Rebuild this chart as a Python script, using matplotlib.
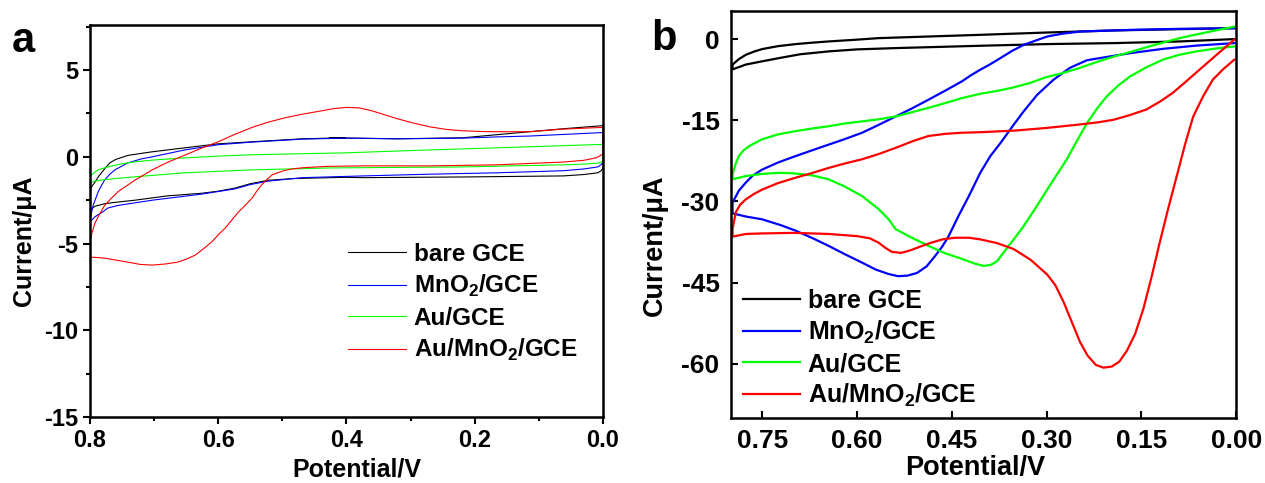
import matplotlib
matplotlib.use("Agg")
import matplotlib.pyplot as plt
from matplotlib.ticker import MultipleLocator, FormatStrFormatter

plt.rcParams['font.family'] = ['Liberation Sans', 'DejaVu Sans']
plt.rcParams['font.weight'] = 'bold'
plt.rcParams['axes.unicode_minus'] = False
plt.rcParams['mathtext.fontset'] = 'custom'
plt.rcParams['mathtext.rm'] = 'Liberation Sans:bold'
plt.rcParams['mathtext.bf'] = 'Liberation Sans:bold'

labels = ['bare GCE', r'MnO$_2$/GCE', 'Au/GCE', r'Au/MnO$_2$/GCE']
colors = ['#000000', '#0000ff', '#00ff00', '#ff0000']

# ---- panel a: CV loops (potential in V, current in uA) ----
a_bare_v = [0.800, 0.800, 0.797, 0.792, 0.786, 0.781, 0.775, 0.769, 0.760, 0.741, 0.720, 0.703,
            0.652, 0.600, 0.547, 0.469, 0.402, 0.426, 0.321, 0.218, 0.114, 0.062, 0.0,
            0.0, 0.003, 0.008, 0.030, 0.062, 0.218, 0.374, 0.402, 0.480, 0.522, 0.550,
            0.574, 0.600, 0.626, 0.679, 0.730, 0.760, 0.777, 0.792, 0.800]
a_bare_i = [-3.06, -2.0, -1.7, -1.45, -1.1, -0.87, -0.6, -0.35, -0.15, 0.08, 0.2, 0.29,
            0.52, 0.75, 0.87, 1.04, 1.1, 1.1, 1.04, 1.1, 1.45, 1.62, 1.8,
            -0.65, -0.8, -0.92, -1.02, -1.1, -1.16, -1.2, -1.18, -1.25, -1.35, -1.55,
            -1.8, -1.98, -2.1, -2.25, -2.5, -2.62, -2.7, -2.85, -3.06]

a_mno2_v = [0.800, 0.798, 0.795, 0.791, 0.787, 0.782, 0.777, 0.769, 0.761, 0.741, 0.720, 0.703,
            0.652, 0.600, 0.547, 0.469, 0.402, 0.321, 0.218, 0.165, 0.114, 0.0,
            0.0, 0.003, 0.008, 0.030, 0.062, 0.165, 0.270, 0.374, 0.469, 0.522, 0.550,
            0.574, 0.600, 0.626, 0.703, 0.756, 0.772, 0.781, 0.792, 0.800]
a_mno2_i = [-3.76, -3.3, -2.8, -2.4, -2.0, -1.65, -1.33, -1.0, -0.75, -0.35, -0.12, 0.0,
            0.4, 0.7, 0.85, 1.02, 1.08, 1.04, 1.08, 1.15, 1.2, 1.4,
            -0.3, -0.45, -0.58, -0.7, -0.8, -0.92, -1.0, -1.1, -1.2, -1.4, -1.6,
            -1.85, -2.0, -2.15, -2.5, -2.8, -2.95, -3.2, -3.45, -3.76]

a_au_v = [0.800, 0.795, 0.787, 0.776, 0.765, 0.750, 0.730, 0.700, 0.652, 0.600, 0.547, 0.470,
          0.402, 0.270, 0.140, 0.0, 0.0, 0.005, 0.030, 0.062, 0.218, 0.426, 0.547, 0.652,
          0.730, 0.760, 0.781, 0.795, 0.800]
a_au_i = [-1.15, -0.95, -0.75, -0.62, -0.52, -0.4, -0.29, -0.18, -0.06, 0.04, 0.12, 0.18,
          0.23, 0.4, 0.55, 0.72, -0.25, -0.35, -0.42, -0.46, -0.58, -0.64, -0.75, -0.92,
          -1.15, -1.25, -1.33, -1.42, -1.5]

a_aumno2_v = [0.800, 0.800, 0.797, 0.792, 0.785, 0.777, 0.767, 0.756, 0.730, 0.703, 0.678, 0.652,
              0.626, 0.600, 0.574, 0.547, 0.522, 0.496, 0.470, 0.444, 0.420, 0.400, 0.380,
              0.360, 0.340, 0.321, 0.296, 0.270, 0.244, 0.218, 0.190, 0.165, 0.114, 0.062,
              0.0, 0.0, 0.010, 0.030, 0.062, 0.165, 0.270, 0.374, 0.430, 0.469, 0.485,
              0.496, 0.506, 0.516, 0.524, 0.532, 0.540, 0.547, 0.558, 0.569, 0.579, 0.589,
              0.600, 0.610, 0.623, 0.636, 0.650, 0.663, 0.683, 0.703, 0.722, 0.741, 0.760,
              0.777, 0.790, 0.800]
a_aumno2_i = [-5.78, -4.9, -4.4, -3.8, -3.3, -2.8, -2.4, -2.0, -1.35, -0.75, -0.3, 0.1,
              0.5, 0.87, 1.3, 1.7, 2.0, 2.25, 2.45, 2.62, 2.78, 2.85, 2.82,
              2.65, 2.42, 2.2, 1.95, 1.73, 1.58, 1.5, 1.46, 1.45, 1.45, 1.6,
              1.7, 0.17, -0.05, -0.2, -0.3, -0.46, -0.52, -0.52, -0.55, -0.63, -0.7,
              -0.78, -0.9, -1.04, -1.3, -1.6, -1.98, -2.37, -2.8, -3.2, -3.65, -4.1,
              -4.5, -4.9, -5.3, -5.67, -5.9, -6.07, -6.18, -6.24, -6.2, -6.07, -5.95,
              -5.84, -5.8, -5.78]

# ---- panel b ----
b_bare_v = [0.003, 0.089, 0.194, 0.299, 0.405, 0.487, 0.566, 0.600, 0.645, 0.670, 0.697, 0.725,
            0.750, 0.763, 0.776, 0.787, 0.797, 0.797, 0.776, 0.750, 0.723, 0.690, 0.645,
            0.600, 0.539, 0.405, 0.299, 0.194, 0.089, 0.003]
b_bare_i = [2.03, 1.84, 1.6, 1.22, 0.79, 0.48, 0.18, -0.1, -0.43, -0.65, -0.92, -1.3,
            -1.84, -2.3, -2.9, -3.7, -4.7, -5.6, -4.7, -4.1, -3.5, -2.8, -2.27,
            -1.9, -1.66, -1.23, -0.92, -0.74, -0.43, 0.0]

b_mno2_v = [0.003, 0.089, 0.168, 0.247, 0.275, 0.299, 0.318, 0.336, 0.355, 0.373, 0.390, 0.405,
            0.420, 0.434, 0.460, 0.487, 0.513, 0.539, 0.565, 0.592, 0.620, 0.645, 0.670,
            0.697, 0.725, 0.750, 0.765, 0.776, 0.787, 0.797,
            0.797, 0.775, 0.750, 0.720, 0.697, 0.670, 0.645, 0.620, 0.592, 0.570, 0.550,
            0.535, 0.520, 0.505, 0.490, 0.476, 0.465, 0.455, 0.440, 0.423, 0.405, 0.389,
            0.373, 0.352, 0.336, 0.315, 0.289, 0.263, 0.236, 0.205, 0.168, 0.116, 0.063,
            0.003]
b_mno2_i = [2.0, 1.9, 1.7, 1.4, 1.0, 0.48, -0.3, -1.05, -2.2, -3.5, -4.7, -5.65,
            -6.7, -7.8, -9.5, -11.2, -12.8, -14.3, -15.8, -17.3, -18.5, -19.5, -20.5,
            -21.6, -22.8, -24.1, -25.2, -26.5, -28.0, -30.2,
            -32.2, -32.8, -33.3, -34.4, -35.4, -36.8, -38.2, -39.7, -41.3, -42.6, -43.4,
            -43.8, -43.7, -43.2, -42.0, -40.0, -38.3, -36.4, -32.8, -29.0, -24.7, -21.6,
            -19.2, -15.8, -13.3, -10.3, -7.5, -5.3, -3.9, -3.3, -2.6, -1.8, -1.2,
            -0.74]

b_au_v = [0.003, 0.045, 0.089, 0.130, 0.168, 0.190, 0.220, 0.247, 0.275, 0.300, 0.326, 0.355,
          0.380, 0.405, 0.434, 0.460, 0.487, 0.513, 0.539, 0.565, 0.592, 0.620, 0.645,
          0.670, 0.697, 0.725, 0.750, 0.760, 0.771, 0.780, 0.787, 0.792, 0.797,
          0.797, 0.776, 0.750, 0.723, 0.700, 0.670, 0.645, 0.620, 0.592, 0.566, 0.550,
          0.539, 0.515, 0.487, 0.460, 0.434, 0.413, 0.400, 0.388, 0.378, 0.368, 0.352,
          0.336, 0.318, 0.299, 0.283, 0.268, 0.252, 0.236, 0.220, 0.205, 0.187, 0.168,
          0.142, 0.116, 0.090, 0.063, 0.030, 0.003]
b_au_i = [2.3, 1.3, 0.2, -1.1, -2.4, -3.1, -4.2, -5.3, -6.3, -7.0, -8.1, -9.0,
          -9.6, -10.1, -10.9, -11.8, -12.7, -13.5, -14.3, -14.8, -15.2, -15.6, -16.1,
          -16.5, -17.0, -17.6, -18.5, -19.1, -19.8, -20.6, -21.6, -23.0, -25.0,
          -25.9, -25.3, -24.9, -24.7, -24.8, -25.2, -25.9, -27.2, -29.0, -31.4, -33.3,
          -35.1, -36.6, -38.2, -39.6, -40.6, -41.5, -41.9, -41.7, -41.0, -39.4, -37.0,
          -34.5, -31.3, -27.8, -24.9, -22.2, -18.8, -15.5, -12.8, -10.6, -8.6, -6.9,
          -5.2, -3.8, -2.9, -2.27, -1.7, -1.36]

b_aumno2_v = [0.003, 0.030, 0.058, 0.080, 0.100, 0.120, 0.142, 0.170, 0.194, 0.220, 0.250, 0.299,
              0.350, 0.405, 0.434, 0.460, 0.487, 0.513, 0.539, 0.565, 0.592, 0.620, 0.645,
              0.670, 0.697, 0.725, 0.750, 0.763, 0.776, 0.785, 0.792, 0.797,
              0.797, 0.776, 0.750, 0.700, 0.645, 0.600, 0.580, 0.566, 0.556, 0.545, 0.530,
              0.515, 0.497, 0.482, 0.465, 0.445, 0.423, 0.405, 0.378, 0.352, 0.325, 0.299,
              0.286, 0.273, 0.260, 0.247, 0.235, 0.222, 0.210, 0.197, 0.185, 0.173, 0.160,
              0.147, 0.134, 0.121, 0.108, 0.094, 0.081, 0.068, 0.052, 0.037, 0.020, 0.003]
b_aumno2_i = [-0.1, -2.8, -5.65, -7.9, -9.9, -11.5, -13.0, -14.1, -14.9, -15.4, -15.8, -16.4,
              -16.9, -17.2, -17.3, -17.5, -17.9, -18.9, -20.1, -21.2, -22.2, -23.0, -23.8,
              -24.7, -25.6, -26.6, -27.8, -28.6, -29.6, -30.6, -32.0, -35.1,
              -36.5, -36.0, -35.9, -35.8, -36.0, -36.4, -36.8, -37.6, -38.5, -39.3, -39.5,
              -39.0, -38.2, -37.6, -37.0, -36.7, -36.7, -37.0, -37.7, -38.8, -40.8, -43.5,
              -45.5, -48.6, -52.3, -56.0, -58.5, -60.2, -60.7, -60.5, -59.6, -57.6, -54.5,
              -49.9, -44.0, -37.6, -31.5, -25.3, -19.5, -14.3, -10.5, -7.5, -5.5, -3.8]

a_curves = [(a_bare_v, a_bare_i), (a_mno2_v, a_mno2_i), (a_au_v, a_au_i), (a_aumno2_v, a_aumno2_i)]
b_curves = [(b_bare_v, b_bare_i), (b_mno2_v, b_mno2_i), (b_au_v, b_au_i), (b_aumno2_v, b_aumno2_i)]

fig = plt.figure(figsize=(12.65, 4.83), dpi=100)
ax1 = fig.add_axes([0.0711, 0.1366, 0.4056, 0.8116])
ax2 = fig.add_axes([0.5776, 0.1346, 0.3996, 0.8427])

# panel a
for (v, i), c, lab in zip(a_curves, colors, labels):
    ax1.plot(v, i, color=c, lw=0.8, label=lab)
ax1.set_xlim(0.8, 0.0)
ax1.set_ylim(-15, 7.6)
ax1.xaxis.set_major_locator(MultipleLocator(0.2))
ax1.xaxis.set_minor_locator(MultipleLocator(0.1))
ax1.yaxis.set_major_locator(MultipleLocator(5))
ax1.yaxis.set_minor_locator(MultipleLocator(2.5))
ax1.xaxis.set_major_formatter(FormatStrFormatter('%.1f'))
ax1.tick_params(which='both', direction='out', width=1.5, labelsize=17)
ax1.tick_params(which='major', length=5)
ax1.tick_params(which='minor', length=3)
ax1.set_xlabel('Potential/V', fontsize=18, fontweight='bold')
ax1.set_ylabel('Current/\u03bcA', fontsize=18, fontweight='bold')
ax1.xaxis.set_label_coords(0.52, -0.102)
ax1.yaxis.set_label_coords(-0.105, 0.45)
ax1.legend(loc='upper left', bbox_to_anchor=(0.503, 0.444), frameon=False, fontsize=17.5,
           handlelength=2.4, handletextpad=0.3, labelspacing=0.3, borderpad=0, borderaxespad=0)

# panel b
for (v, i), c, lab in zip(b_curves, colors, labels):
    ax2.plot(v, i, color=c, lw=1.6, label=lab)
ax2.set_xlim(0.8, 0.0)
ax2.set_ylim(-70, 5.2)
ax2.set_xticks([0.75, 0.60, 0.45, 0.30, 0.15, 0.00])
ax2.set_yticks([0, -15, -30, -45, -60])
ax2.xaxis.set_major_formatter(FormatStrFormatter('%.2f'))
ax2.tick_params(direction='in', width=1.5, length=5, labelsize=19, pad=8)
ax2.set_xlabel('Potential/V', fontsize=19.5, fontweight='bold')
ax2.set_ylabel('Current/\u03bcA', fontsize=19.5, fontweight='bold')
ax2.xaxis.set_label_coords(0.483, -0.091)
ax2.yaxis.set_label_coords(-0.124, 0.425)
ax2.legend(loc='upper left', bbox_to_anchor=(0.024, 0.317), frameon=False, fontsize=18,
           handlelength=2.3, handletextpad=0.3, labelspacing=0.24, borderpad=0, borderaxespad=0)

for ax in (ax1, ax2):
    for s in ax.spines.values():
        s.set_linewidth(1.8)

fig.text(0.009, 0.893, 'a', fontsize=30, fontweight='bold')
fig.text(0.515, 0.896, 'b', fontsize=30, fontweight='bold')

fig.savefig('out.png', dpi=100)
